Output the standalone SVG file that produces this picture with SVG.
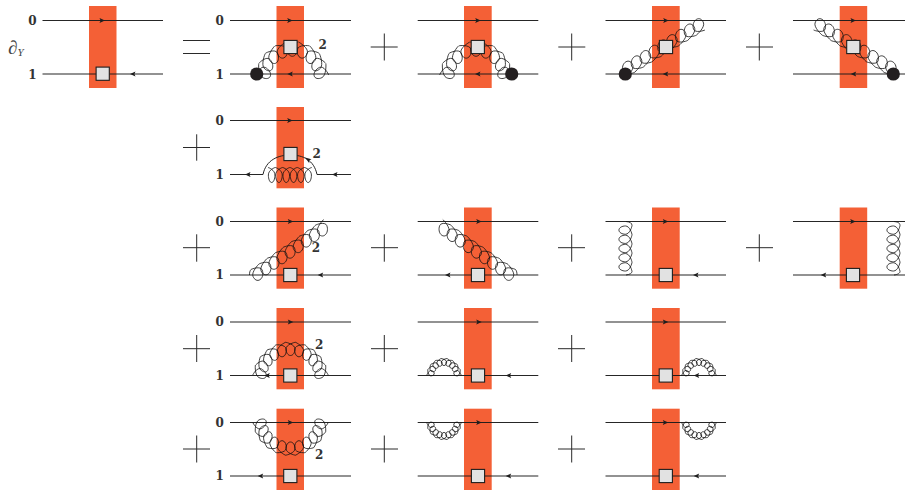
<svg xmlns="http://www.w3.org/2000/svg" width="905" height="491" viewBox="0 0 905 491">
<style>
.band{fill:#f46036}
.ln{stroke:#1a1a1a;stroke-width:.95;fill:none}
.op{stroke:#2a2a2a;stroke-width:1}
.sq{fill:#e2e2e2;stroke:#1e1e1e;stroke-width:1.1}
.blob{fill:#231f20}
.coil{fill:none;stroke:#111;stroke-width:.8;vector-effect:non-scaling-stroke}
.ah{fill:#1e1e1e}
.lab{font-family:"DejaVu Serif",serif;font-weight:700;font-size:12px;fill:#333;text-anchor:middle}
.dy{font-family:"Liberation Serif",serif;font-style:italic;fill:#444}
</style>
<defs>
<path id="q" class="coil" d="M-5 0C-4 0 4.5 2.5 4.5 7.5C4.5 11.5 2.6 15 0 15C-2.6 15 -4.5 11.5 -4.5 7.5C-4.5 2.5 4 0 5 0"/>
<path id="w" class="coil" d="M-5 0C-4 0 5.7 2.5 5.7 7.5C5.7 11.5 3.4 15 0 15C-3.4 15 -5.7 11.5 -5.7 7.5C-5.7 2.5 4 0 5 0"/>
<path id="ar" class="ah" d="M0 0L-5.5 -2.6L-4.4 0L-5.5 2.6Z"/>
<path id="al" class="ah" d="M0 0L5.5 -2.6L4.4 0L5.5 2.6Z"/>
<rect id="sq" class="sq" x="-6.6" y="-6.6" width="13.2" height="13.2"/>
<g id="coil5"><use href="#q" x="5"/><use href="#q" x="15"/><use href="#q" x="25"/><use href="#q" x="35"/><use href="#q" x="45"/></g>
<g id="coil6"><use href="#coil5"/><use href="#q" x="55"/></g>
<g id="coil9"><use href="#w" x="5"/><use href="#w" x="15"/><use href="#w" x="25"/><use href="#w" x="35"/><use href="#w" x="45"/><use href="#w" x="55"/><use href="#w" x="65"/><use href="#w" x="75"/><use href="#w" x="85"/></g>
<g id="arc-big">
<use href="#q" transform="rotate(-75) translate(0,-37.7) scale(1,.88) skewX(-10)"/><use href="#q" transform="rotate(-60) translate(0,-37.7) scale(1,.88) skewX(-12)"/><use href="#q" transform="rotate(-45) translate(0,-37.7) scale(1,.88) skewX(-12)"/><use href="#q" transform="rotate(-30) translate(0,-37.7) scale(1,.88) skewX(-9)"/><use href="#q" transform="rotate(-15) translate(0,-37.7) scale(1,.88) skewX(-5)"/><use href="#q" transform="translate(0,-37.7) scale(1,.88)"/><use href="#q" transform="rotate(15) translate(0,-37.7) scale(1,.88) skewX(5)"/><use href="#q" transform="rotate(30) translate(0,-37.7) scale(1,.88) skewX(9)"/><use href="#q" transform="rotate(45) translate(0,-37.7) scale(1,.88) skewX(12)"/><use href="#q" transform="rotate(60) translate(0,-37.7) scale(1,.88) skewX(12)"/><use href="#q" transform="rotate(75) translate(0,-37.7) scale(1,.88) skewX(10)"/>
</g>
<g id="arc-med">
<use href="#q" transform="rotate(-76) translate(0,-36) scale(1.17,.95) skewX(-10)"/><use href="#q" transform="rotate(-57) translate(0,-36) scale(1.17,.95) skewX(-12)"/><use href="#q" transform="rotate(-38) translate(0,-36) scale(1.17,.95) skewX(-10)"/><use href="#q" transform="rotate(-19) translate(0,-36) scale(1.17,.95) skewX(-5)"/><use href="#q" transform="translate(0,-36) scale(1.17,.95)"/><use href="#q" transform="rotate(19) translate(0,-36) scale(1.17,.95) skewX(5)"/><use href="#q" transform="rotate(38) translate(0,-36) scale(1.17,.95) skewX(10)"/><use href="#q" transform="rotate(57) translate(0,-36) scale(1.17,.95) skewX(12)"/><use href="#q" transform="rotate(76) translate(0,-36) scale(1.17,.95) skewX(10)"/>
</g>
<g id="arc-small">
<use href="#q" transform="rotate(-80) translate(0,-17) scale(.59,.47)"/><use href="#q" transform="rotate(-60) translate(0,-17) scale(.59,.47)"/><use href="#q" transform="rotate(-40) translate(0,-17) scale(.59,.47)"/><use href="#q" transform="rotate(-20) translate(0,-17) scale(.59,.47)"/><use href="#q" transform="translate(0,-17) scale(.59,.47)"/><use href="#q" transform="rotate(20) translate(0,-17) scale(.59,.47)"/><use href="#q" transform="rotate(40) translate(0,-17) scale(.59,.47)"/><use href="#q" transform="rotate(60) translate(0,-17) scale(.59,.47)"/><use href="#q" transform="rotate(80) translate(0,-17) scale(.59,.47)"/>
</g>
<g id="glu-a"><use href="#coil9" transform="translate(705,30) rotate(149) scale(1.03,.9) skewX(-12)"/></g>
<g id="glu-b"><path class="coil" d="M249.5 275C249.5 272.5 249.8 271 251 269.5"/><use href="#coil9" transform="translate(251,269.5) rotate(-34.5) scale(.98,.9) skewX(-12)"/></g>
<g id="glu-v"><path class="coil" d="M626 221.5C630 222 632 223 632 225.5"/><use href="#coil5" transform="translate(632,225.5) rotate(90) scale(.92,.87)"/><path class="coil" d="M632 271.5C632 273 630 274.5 626 275"/></g>
</defs>

<g id="bands">
<rect class="band" x="89" y="6" width="27.5" height="82"/>
<rect class="band" x="276.5" y="6" width="27.5" height="82"/>
<rect class="band" x="464" y="6" width="27.7" height="82"/>
<rect class="band" x="652" y="6" width="27.7" height="82"/>
<rect class="band" x="839.7" y="6" width="27.5" height="82"/>
<rect class="band" x="276.5" y="107" width="27.5" height="81.3"/>
<rect class="band" x="276.5" y="207.5" width="27.5" height="81.2"/>
<rect class="band" x="464" y="207.5" width="27.7" height="81.2"/>
<rect class="band" x="652" y="207.5" width="27.7" height="81.2"/>
<rect class="band" x="839.7" y="207.5" width="27.5" height="81.2"/>
<rect class="band" x="276.5" y="308" width="27.5" height="81.3"/>
<rect class="band" x="464" y="308" width="27.7" height="81.3"/>
<rect class="band" x="652" y="308" width="27.7" height="81.3"/>
<rect class="band" x="276.5" y="408.7" width="27.5" height="81.3"/>
<rect class="band" x="464" y="408.7" width="27.7" height="81.3"/>
<rect class="band" x="652" y="408.7" width="27.7" height="81.3"/>
</g>

<g id="connectors">
<path class="ln" d="M42.5 20.5H163M42.5 74H163"/>
<path class="ln" d="M230 20.5H351M230 74H351"/>
<path class="ln" d="M417.7 20.5H538.3M417.7 74H538.3"/>
<path class="ln" d="M605.5 20.5H726M605.5 74H726"/>
<path class="ln" d="M793 20.5H905M793 74H905"/>
<path class="ln" d="M230 120.5H351M230 174.5H263C266 160 278 155 290.5 155C303 155 314 160 317 174.5H351"/>
<path class="ln" d="M230 221.5H351M230 275H351"/>
<path class="ln" d="M417.7 221.5H538.3M417.7 275H538.3"/>
<path class="ln" d="M605.5 221.5H726M605.5 275H726"/>
<path class="ln" d="M793 221.5H905M793 275H905"/>
<path class="ln" d="M230 322H351M230 375.5H351"/>
<path class="ln" d="M417.7 322H538.3M417.7 375.5H538.3"/>
<path class="ln" d="M605.5 322H726M605.5 375.5H726"/>
<path class="ln" d="M230 422.5H351M230 476H351"/>
<path class="ln" d="M417.7 422.5H538.3M417.7 476H538.3"/>
<path class="ln" d="M605.5 422.5H726M605.5 476H726"/>

<g id="arrows">
<use href="#ar" x="105" y="20.5"/><use href="#al" x="130" y="74"/>
<use href="#ar" x="292.7" y="20.5"/><use href="#al" x="287.3" y="74"/>
<use href="#ar" x="480.7" y="20.5"/><use href="#al" x="475" y="74"/>
<use href="#ar" x="668.7" y="20.5"/><use href="#al" x="662.7" y="74"/>
<use href="#ar" x="856" y="20.5"/><use href="#al" x="850.7" y="74"/>
<use href="#ar" x="292.7" y="120.5"/><use href="#al" x="245" y="174.5"/><use href="#al" x="332" y="174.5"/>
<path class="ah" d="M305 157.5L311.5 159.2L309 160.5L309.3 163.3Z"/>
<use href="#ar" x="293.3" y="221.5"/><use href="#al" x="317.7" y="275"/>
<use href="#ar" x="481.7" y="221.5"/><use href="#al" x="445" y="275"/>
<use href="#ar" x="668.3" y="221.5"/><use href="#al" x="693" y="275"/>
<use href="#ar" x="855.7" y="221.5"/><use href="#al" x="820.7" y="275"/>
<use href="#ar" x="293.3" y="322"/><use href="#al" x="264.3" y="375.5"/>
<use href="#ar" x="481.7" y="322"/><use href="#al" x="505.7" y="375.5"/>
<use href="#ar" x="668.3" y="322"/><use href="#al" x="693.7" y="375.5"/>
<use href="#ar" x="293.3" y="422.5"/><use href="#al" x="257.7" y="476"/>
<use href="#ar" x="481.7" y="422.5"/><use href="#al" x="505.7" y="476"/>
<use href="#ar" x="668.3" y="422.5"/><use href="#al" x="693.7" y="476"/>
</g>

<g id="gluons">
<use href="#arc-med" transform="translate(292.3,78)"/>
<use href="#arc-med" transform="translate(476,78)"/>
<use href="#glu-a"/>
<use href="#glu-a" transform="translate(1518.6,0) scale(-1,1)"/>
<use href="#coil6" transform="translate(268,167.5) scale(.73,1)"/>
<use href="#glu-b"/>
<use href="#glu-b" transform="translate(766.5,0) scale(-1,1)"/>
<use href="#glu-v"/>
<use href="#glu-v" transform="translate(268,0)"/>
<use href="#arc-big" transform="translate(290.5,380)"/>
<use href="#arc-small" transform="translate(444,375.5)"/>
<use href="#arc-small" transform="translate(699,375.5)"/>
<use href="#arc-big" transform="translate(290.5,417.5) scale(1,-1)"/>
<use href="#arc-small" transform="translate(444,422.5) scale(1,-1)"/>
<use href="#arc-small" transform="translate(699,422.5) scale(1,-1)"/>
</g>
</g>

<g id="operators">
<path class="op" d="M183 40.5H210M183 53.5H210"/>
<path class="op" d="M370.7 47H397.7M384.3 33.5V60.5"/>
<path class="op" d="M558.3 47H585.3M571.7 33.5V60.5"/>
<path class="op" d="M746 47H773M759.3 33.5V60.5"/>
<path class="op" d="M183 147.5H210M196.7 134.3V160.7"/>
<path class="op" d="M183 247.7H210M196.7 234.3V261.7"/>
<path class="op" d="M371 247.7H398M384.3 234.3V261.7"/>
<path class="op" d="M558 247.7H585M571.7 234.3V261.7"/>
<path class="op" d="M746 247.7H773M759.3 234.3V261.7"/>
<path class="op" d="M183 348.7H210M196.7 335V362"/>
<path class="op" d="M371 348.7H398M384.3 335V362"/>
<path class="op" d="M558 348.7H585M571.7 335V362"/>
<path class="op" d="M183 449H210M196.7 435.5V462.5"/>
<path class="op" d="M371 449H398M384.3 435.5V462.5"/>
<path class="op" d="M558 449H585M571.7 435.5V462.5"/>
</g>

<g id="vertices">
<g id="op-a"><use href="#sq" x="102.7" y="73.7"/></g>
<g id="op-b1"><use href="#sq" x="290.5" y="47"/></g>
<g id="op-b2"><use href="#sq" x="477.8" y="47"/></g>
<g id="op-b3"><use href="#sq" x="666" y="47"/></g>
<g id="op-b4"><use href="#sq" x="853.3" y="47"/></g>
<g id="op-c1"><use href="#sq" x="290.5" y="154"/></g>
<g id="op-d1"><use href="#sq" x="290.3" y="275"/></g>
<g id="op-d2"><use href="#sq" x="478" y="275"/></g>
<g id="op-d3"><use href="#sq" x="665.8" y="275"/></g>
<g id="op-d4"><use href="#sq" x="853" y="275"/></g>
<g id="op-e1"><use href="#sq" x="290.3" y="375.5"/></g>
<g id="op-e2"><use href="#sq" x="478" y="375.5"/></g>
<g id="op-e3"><use href="#sq" x="665.8" y="375.5"/></g>
<g id="op-f1"><use href="#sq" x="290.3" y="476"/></g>
<g id="op-f2"><use href="#sq" x="478" y="476"/></g>
<g id="op-f3"><use href="#sq" x="665.8" y="476"/></g>
<circle id="blob-1" class="blob" cx="256.7" cy="74" r="6.6"/>
<circle id="blob-2" class="blob" cx="511.7" cy="74" r="6.6"/>
<circle id="blob-3" class="blob" cx="625.3" cy="74" r="6.6"/>
<circle id="blob-4" class="blob" cx="893.3" cy="74" r="6.6"/>
</g>

<g id="labels">
<text class="dy" x="8" y="53.5" font-size="19">∂</text><text class="dy" x="17.5" y="55.5" font-size="11">Y</text>
<text class="lab" x="32.5" y="24.7">0</text><text class="lab" x="32.5" y="78.7">1</text>
<text class="lab" x="219.7" y="24.7">0</text><text class="lab" x="219.7" y="78.7">1</text>
<text class="lab" x="219.7" y="124.7">0</text><text class="lab" x="219.7" y="178.7">1</text>
<text class="lab" x="219.7" y="225.7">0</text><text class="lab" x="219.7" y="279.2">1</text>
<text class="lab" x="219.7" y="326.2">0</text><text class="lab" x="219.7" y="379.7">1</text>
<text class="lab" x="219.7" y="426.7">0</text><text class="lab" x="219.7" y="480.2">1</text>
<text class="lab" x="322.7" y="49">2</text>
<text class="lab" x="316.7" y="158">2</text>
<text class="lab" x="316" y="252">2</text>
<text class="lab" x="319.3" y="348.5">2</text>
<text class="lab" x="319.3" y="458.5">2</text>
</g>
</svg>
